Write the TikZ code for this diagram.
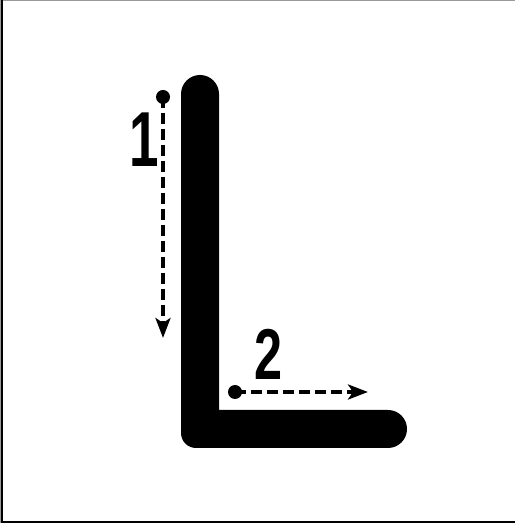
\documentclass[tikz,border=0pt]{standalone}
\usepackage{fontspec}
\setmainfont{Liberation Sans}
\usetikzlibrary{arrows.meta}
\tikzset{
  dotnode/.style={circle,fill=black,inner sep=0pt,minimum size=14pt},
  flowarrow/.style={line width=4pt,dash pattern=on 11pt off 5pt,-{Stealth[length=20pt,width=15pt,inset=5pt]}},
  numlabel/.style={inner sep=0pt,font=\bfseries}
}
\begin{document}
\begin{tikzpicture}[x=1pt,y=1pt]
\useasboundingbox (0,0) rectangle (515,529);
% frame
\draw[gray!80,line width=1pt] (0,528.5) -- (515,528.5);
\draw[gray!80,line width=1pt] (0.5,529) -- (0.5,6);
\draw[black,line width=1.5pt] (1.8,529) -- (1.8,7) -- (515,7);
% L shape
\fill[black] (219,435) -- (219,119) -- (388,119) arc[start angle=90,end angle=-90,radius=19]
  -- (196,81) arc[start angle=270,end angle=180,radius=15]
  -- (181,435) arc[start angle=180,end angle=0,radius=19] -- cycle;
% dots and arrows
\node[dotnode] (d1) at (163,432) {};
\coordinate (e1) at (163,191);
\draw[flowarrow] (d1.center) -- (e1);
\node[dotnode] (d2) at (235,137) {};
\coordinate (e2) at (368,137);
\draw[flowarrow] (d2.center) -- (e2);
% labels
\node[numlabel,anchor=south] (n1) at (144,362) {\scalebox{0.68}[1]{\fontsize{78}{78}\selectfont 1}};
\node[numlabel,anchor=south] (n2) at (268.5,149) {\scalebox{0.7}[1]{\fontsize{72}{72}\selectfont 2}};
\end{tikzpicture}
\end{document}
